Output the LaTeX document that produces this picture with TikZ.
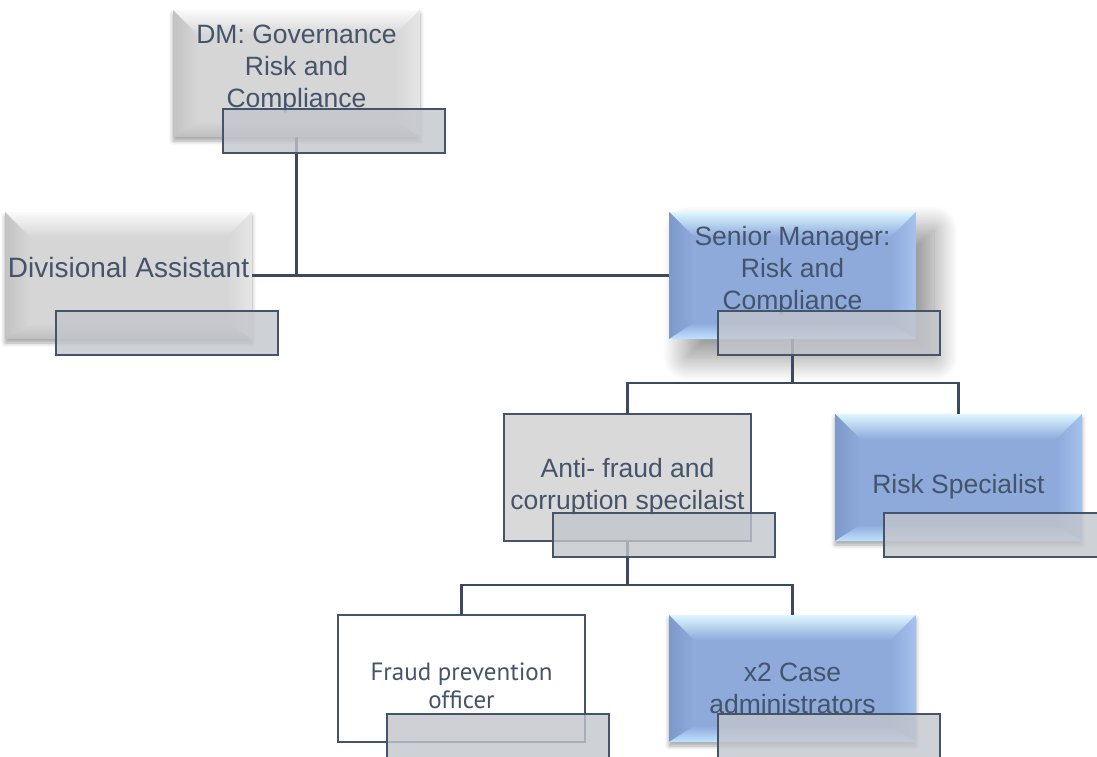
\documentclass[tikz,border=0pt]{standalone}
\usepackage{fontspec}
\setmainfont{Liberation Sans}
\newfontfamily\ptsans{PT Sans}
\usetikzlibrary{shadows.blur}
\definecolor{txt}{HTML}{44546A}
\definecolor{ln}{HTML}{3B4A5E}
\definecolor{gbase}{HTML}{D6D6D6}
\definecolor{gtop}{HTML}{FAFAFA}
\definecolor{gleft}{HTML}{C2C2C2}
\definecolor{gright}{HTML}{E6E6E6}
\definecolor{gbot}{HTML}{BEBEBE}
\definecolor{bbase}{HTML}{8EAADB}
\definecolor{btop}{HTML}{DDF6FF}
\definecolor{bleft}{HTML}{7C9AC9}
\definecolor{bright}{HTML}{A6C2EE}
\definecolor{bbot}{HTML}{BFE3FF}
\definecolor{subfill}{HTML}{C2C5CB}
\definecolor{flatg}{HTML}{D9D9D9}
\newcommand\bevelpic[5]{%
  \path (path picture bounding box.north west) coordinate (pnw)
        (path picture bounding box.north east) coordinate (pne)
        (path picture bounding box.south west) coordinate (psw)
        (path picture bounding box.south east) coordinate (pse);
  \shade[top color=#1, bottom color=#5] (pnw) -- (pne) -- ([shift={(-25pt,-25pt)}]pne) -- ([shift={(25pt,-25pt)}]pnw) -- cycle;
  \shade[left color=#2, right color=#5] (pnw) -- ([shift={(25pt,-25pt)}]pnw) -- ([shift={(25pt,16pt)}]psw) -- (psw) -- cycle;
  \shade[left color=#5, right color=#3] (pne) -- (pse) -- ([shift={(-25pt,16pt)}]pse) -- ([shift={(-25pt,-25pt)}]pne) -- cycle;
  \shade[top color=#5, bottom color=#4] (psw) -- ([shift={(25pt,16pt)}]psw) -- ([shift={(-25pt,16pt)}]pse) -- (pse) -- cycle;
}
\tikzset{
  box/.style={minimum width=247pt, minimum height=127pt, inner sep=0pt, outer sep=0pt, anchor=north west},
  bevelgray/.style={box, fill=gbase, path picture={\bevelpic{gtop}{gleft}{gright}{gbot}{gbase}}},
  bevelblue/.style={box, fill=bbase, path picture={\bevelpic{btop}{bleft}{bright}{bbot}{bbase}}},
  smallshadow/.style={blur shadow={shadow xshift=0pt, shadow yshift=-4pt, shadow blur radius=4pt, shadow opacity=35}},
  bigshadow/.style={blur shadow={shadow xshift=18pt, shadow yshift=-18pt, shadow blur radius=24pt, shadow blur steps=40, shadow opacity=45}},
  flatbox/.style={box, fill=flatg, draw=txt, line width=2.5pt},
  whitebox/.style={box, fill=white, draw=txt, line width=2.5pt},
  subbox/.style={minimum width=222pt, minimum height=44pt, inner sep=0pt, outer sep=0pt, anchor=north west,
     fill=subfill, fill opacity=0.8, draw=txt, draw opacity=1, line width=2.5pt},
  lbl/.style={text=txt, align=center, font=\fontsize{26.5}{32}\selectfont, anchor=base, inner sep=0pt},
  lbls/.style={text=txt, align=center, font=\ptsans\fontsize{25}{28}\selectfont, anchor=base, inner sep=0pt},
  conn/.style={draw=ln, line width=2.5pt},
}
\begin{document}
\begin{tikzpicture}[x=1pt, y=-1pt]
\useasboundingbox (0,0) rectangle (1097,756);
% main boxes
\node[bevelgray, smallshadow] (dm) at (173,10) {};
\node[bevelgray, smallshadow] (da) at (5,212) {};
\node[bevelblue, bigshadow] (sm) at (669,212) {};
\node[flatbox] (af) at (504,414) {};
\node[bevelblue, smallshadow] (rs) at (835,414) {};
\node[whitebox] (fp) at (338,615) {};
\node[bevelblue, smallshadow] (ca) at (669,615) {};
% labels (base = baseline of last line)
\node[lbl] (dmT) at (296.5,107) {DM: Governance\\Risk and\\Compliance};
\node[lbl, font=\fontsize{28}{32}\selectfont] (daT) at (128.5,277) {Divisional Assistant};
\node[lbl] (smT) at (792.5,309) {Senior Manager:\\Risk and\\Compliance};
\node[lbl] (afT) at (627.5,509) {Anti- fraud and\\corruption specilaist};
\node[lbl] (rsT) at (958.5,493) {Risk Specialist};
\node[lbls] (fpT) at (461.5,708) {Fraud prevention\\officer};
\node[lbl] (caT) at (792.5,713) {x2 Case\\administrators};
% connectors
\coordinate (j0) at (dm.south |- da.east);
\coordinate (j1) at ([yshift=-44pt]sm.south);
\coordinate (j2) at ([yshift=-44pt]af.south);
\draw[conn] (dm.south) -- (j0);
\draw[conn] (da.east) -- (sm.west);
\draw[conn] (sm.south) -- (j1);
\draw[conn] (j1) -| (af.north);
\draw[conn] (j1) -| (rs.north);
\draw[conn] (af.south) -- (j2);
\draw[conn] (j2) -| (fp.north);
\draw[conn] (j2) -| (ca.north);
% sub boxes
\node[subbox] (dmS) at (223,109) {};
\node[subbox] (daS) at (56,311) {};
\node[subbox] (smS) at (718,311) {};
\node[subbox] (afS) at (553,513) {};
\node[subbox] (rsS) at (884,513) {};
\node[subbox] (fpS) at (387,714) {};
\node[subbox] (caS) at (718,714) {};
\end{tikzpicture}
\end{document}
